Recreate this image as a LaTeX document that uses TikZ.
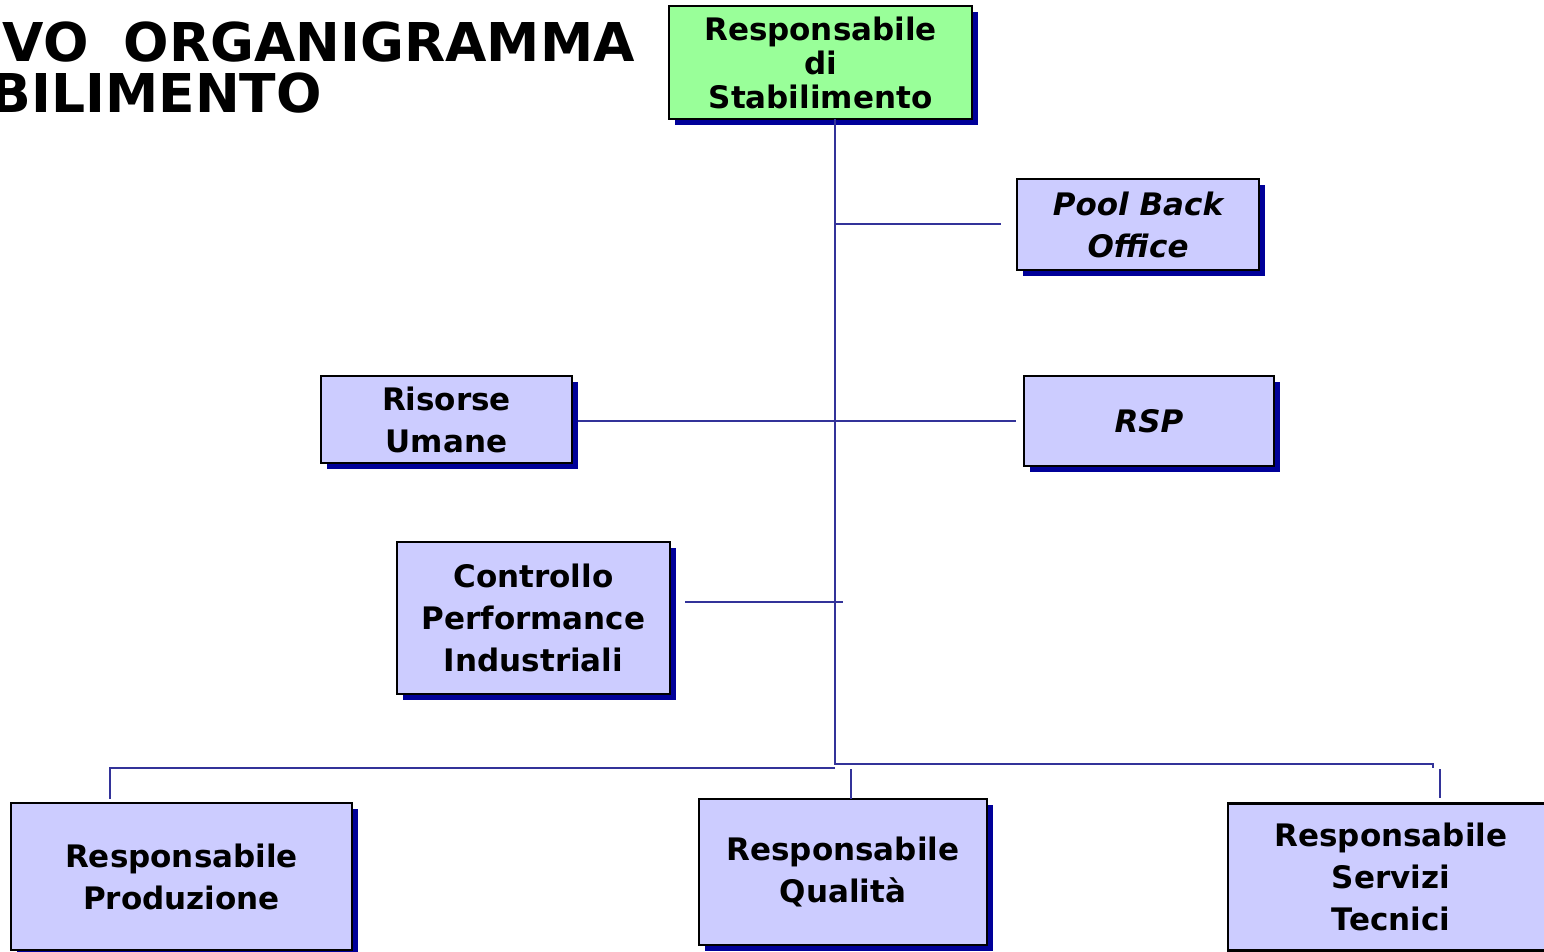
\documentclass[tikz,border=0pt]{standalone}
\usepackage{fontspec}
\setmainfont{DejaVu Sans}
\usetikzlibrary{shadows}
\definecolor{boxfill}{HTML}{CCCCFF}
\definecolor{headfill}{HTML}{99FF99}
\definecolor{shadowblue}{HTML}{000099}
\definecolor{linkblue}{HTML}{333399}
\tikzset{
  x=1pt, y=-1pt,
  unit/.style={draw=black, line width=2.8pt, fill=boxfill, align=center,
    inner sep=0pt, font=\fontsize{31}{42}\selectfont\bfseries,
    drop shadow={shadow xshift=6pt, shadow yshift=-6pt, fill=shadowblue, opacity=1}},
  slanted/.style={font=\fontsize{31}{42}\selectfont\bfseries\itshape},
  link/.style={draw=linkblue, line width=1.8pt},
  heading/.style={inner sep=0pt, font=\fontsize{53.5}{53.5}\selectfont\bfseries},
}
\begin{document}
\begin{tikzpicture}
\useasboundingbox (0,0) rectangle (1544,952);
\clip (0,0) rectangle (1544,952);

% title, partly cut by the page edge
\node[heading, anchor=base east] (t1) at (635,62) {VO\hspace{35pt}ORGANIGRAMMA};
\node[heading, anchor=base east] (t2) at (322,113) {BILIMENTO};

% boxes
\node[unit, fill=headfill, minimum width=303, minimum height=113, font=\fontsize{31}{34}\selectfont\bfseries] (top) at (820.5,62.5) {Responsabile\\di\\Stabilimento};
\node[unit, slanted, minimum width=242, minimum height=91] (pool) at (1138,224.5) {Pool Back\\Office};
\node[unit, minimum width=251, minimum height=87] (hr) at (446.5,419.5) {Risorse\\Umane};
\node[unit, slanted, minimum width=250, minimum height=90] (rsp) at (1149,421) {RSP};
\node[unit, minimum width=273, minimum height=152] (cpi) at (533.5,618) {Controllo\\Performance\\Industriali};
\node[unit, minimum width=341, minimum height=147] (prod) at (181.5,876.5) {Responsabile\\Produzione};
\node[unit, minimum width=288, minimum height=146] (qual) at (843,872) {Responsabile\\Qualità};
\node[unit, minimum width=326, minimum height=147] (serv) at (1391,877) {Responsabile\\Servizi\\Tecnici};

% junction points of the connectors
\coordinate (spineTop) at (835,119);
\coordinate (jPool) at (835,224);
\coordinate (poolEnd) at (1001,224);
\coordinate (hrEnd) at (578,421);
\coordinate (rspEnd) at (1016,421);
\coordinate (cpiEnd) at (685,602);
\coordinate (cpiJoin) at (843,602);
\coordinate (spineLow) at (835,764);
\coordinate (rightCorner) at (1433,764);
\coordinate (rightTick) at (1433,768);
\coordinate (leftStart) at (835,768);
\coordinate (leftCorner) at (110,768);
\coordinate (prodIn) at (110,799);
\coordinate (qualTop) at (851,769);
\coordinate (qualIn) at (851,799);
\coordinate (servTop) at (1440,769);
\coordinate (servIn) at (1440,798);

% connectors
\draw[link] (spineTop) -- (spineLow) -- (rightCorner) -- (rightTick);
\draw[link] (jPool) -- (poolEnd);
\draw[link] (hrEnd) -- (rspEnd);
\draw[link] (cpiEnd) -- (cpiJoin);
\draw[link] (leftStart) -- (leftCorner) -- (prodIn);
\draw[link] (qualTop) -- (qualIn);
\draw[link] (servTop) -- (servIn);
\end{tikzpicture}
\end{document}
